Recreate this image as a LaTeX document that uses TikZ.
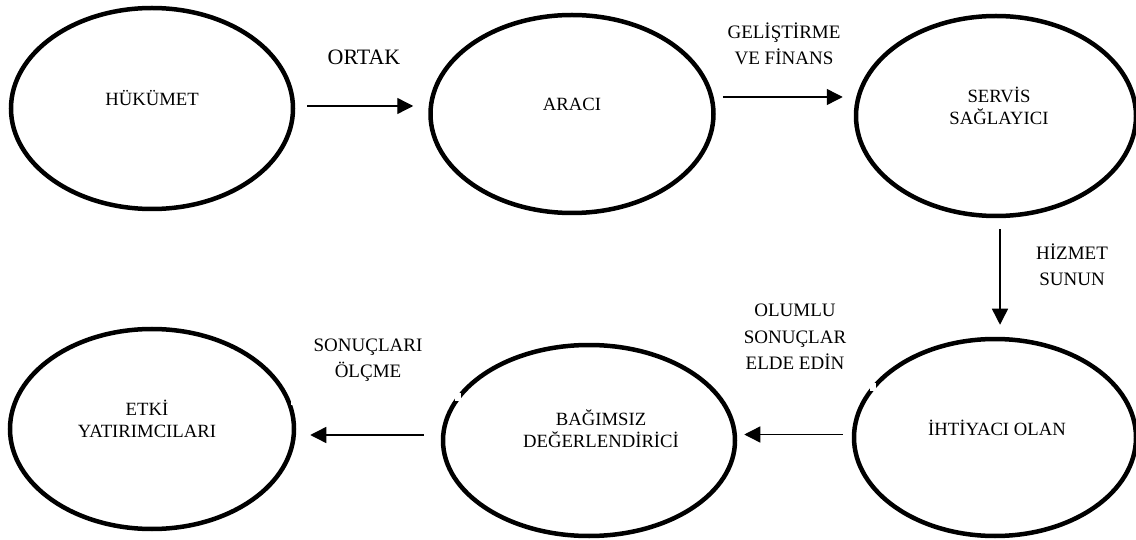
\documentclass[tikz,border=0pt]{standalone}
\usepackage{fontspec}
\setmainfont{Liberation Serif}
\usetikzlibrary{shapes.geometric,arrows.meta}
\tikzset{
  oval/.style={ellipse, draw, line width=4.5pt, inner sep=0pt},
  intext/.style={font=\fontsize{18.7}{22}\selectfont, align=center, yshift=10pt},
  edgetext/.style={font=\fontsize{19}{26.5}\selectfont, align=center},
  arr/.style={line width=1.4pt, -{Triangle[length=16pt,width=16pt]}},
  notch/.style={fill=white}
}
\begin{document}
\begin{tikzpicture}[x=1pt,y=-1pt]
\useasboundingbox (0,0) rectangle (1136,540);
% nodes
\node[oval, minimum width=282pt, minimum height=201pt,
      label={[intext]center:HÜKÜMET}] (hk) at (152,108.5) {};
\node[oval, minimum width=283pt, minimum height=198pt,
      label={[intext]center:ARACI}] (ar) at (572,114) {};
\node[oval, minimum width=280pt, minimum height=200pt,
      label={[intext, xshift=3pt]center:SERVİS\\SAĞLAYICI}] (sv) at (996,116) {};
\node[oval, minimum width=282pt, minimum height=197pt,
      label={[intext, xshift=2pt]center:İHTİYACI OLAN}] (ih) at (995,437.5) {};
\node[oval, minimum width=292pt, minimum height=191pt,
      label={[intext, xshift=12pt, yshift=2pt]center:BAĞIMSIZ\\DEĞERLENDİRİCİ}] (bg) at (589,440.5) {};
\node[oval, minimum width=284pt, minimum height=200pt,
      label={[intext, xshift=-5pt]center:ETKİ\\YATIRIMCILARI}] (et) at (152,429) {};
% small gaps in the outlines
\fill[notch] ([shift={(-1,-4)}]bg.162) rectangle ([shift={(5,4)}]bg.162);
\fill[notch] ([shift={(-1,-4)}]ih.158) rectangle ([shift={(5,4)}]ih.158);
\fill[notch] ([shift={(0,-3)}]et.11) rectangle ([shift={(4,3)}]et.11);
% connectors
\draw[arr] ([shift={(12,-2.5)}]hk.east) -- ([shift={(-15,-8)}]ar.west);
\draw[arr] ([shift={(7,-17)}]ar.east) -- ([shift={(-11,-19)}]sv.west);
\draw[arr] ([shift={(4,11)}]sv.south) -- ([shift={(5,-12)}]ih.north);
\draw[arr] ([shift={(-9,-3)}]ih.west) -- ([shift={(7,-6)}]bg.east);
\draw[arr] ([shift={(-17,-5.5)}]bg.west) -- ([shift={(14,6)}]et.east);
% connector labels
\node[edgetext, font=\fontsize{22}{26}\selectfont] (l1) at (364,57) {ORTAK};
\node[edgetext] (l2) at (784,44) {GELİŞTİRME\\VE FİNANS};
\node[edgetext] (l3) at (1072,265) {HİZMET\\SUNUN};
\node[edgetext] (l4) at (795,337) {OLUMLU\\SONUÇLAR\\ELDE EDİN};
\node[edgetext] (l5) at (368,360) {SONUÇLARI\\ÖLÇME};
\end{tikzpicture}
\end{document}
